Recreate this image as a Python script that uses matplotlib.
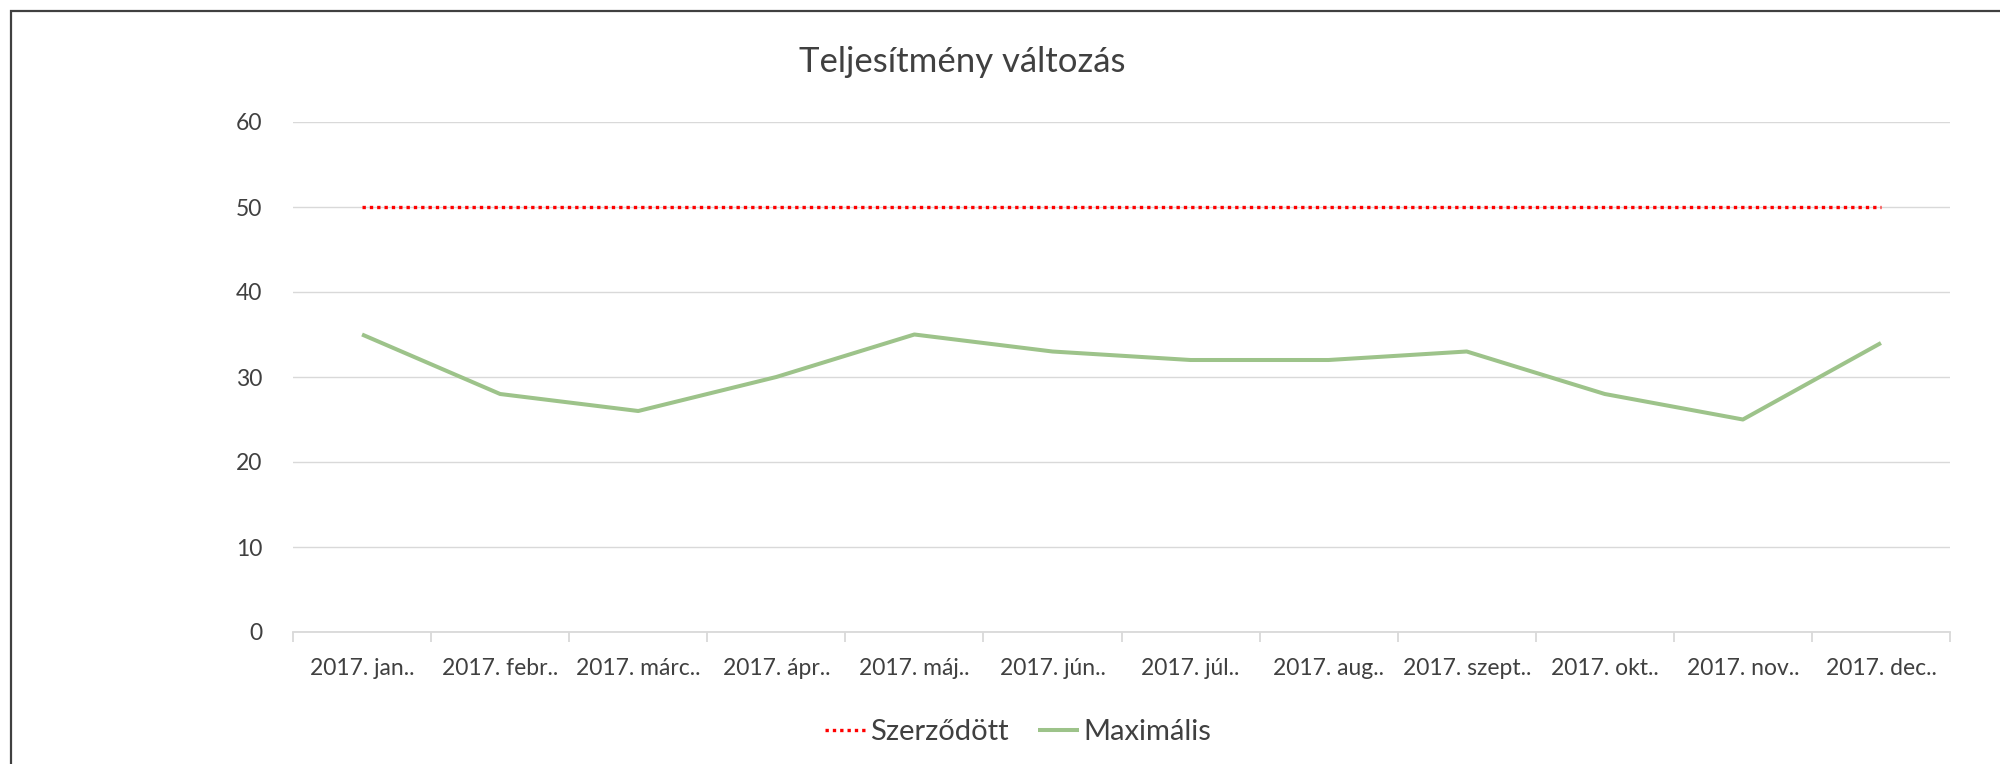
import numpy as np
import matplotlib
matplotlib.use('Agg')
import matplotlib.pyplot as plt
from matplotlib.patches import Rectangle

# %% Data
months = ['2017. jan..', '2017. febr..', '2017. márc..', '2017. ápr..', '2017. máj..',
          '2017. jún..', '2017. júl..', '2017. aug..', '2017. szept..', '2017. okt..',
          '2017. nov..', '2017. dec..']
szerzodott = [50, 50, 50, 50, 50, 50, 50, 50, 50, 50, 50, 50]
maximalis = [35, 28, 26, 30, 35, 33, 32, 32, 33, 28, 25, 34]
yticks = [0, 10, 20, 30, 40, 50, 60]

# %% Style
plt.rcParams['font.family'] = ['Lato', 'DejaVu Sans']
txt_col = '#404040'
grid_col = '#D9D9D9'

W, H = 2000, 764
fig = plt.figure(figsize=(W/100, H/100), dpi=100)

# outer chart frame (right/bottom edges are cut off in the original)
fig.patches.append(Rectangle((11/W, -0.1), 1.2, 1 - 11/H + 0.1, transform=fig.transFigure,
                             fill=False, edgecolor='#404040', linewidth=1.6))

ax = fig.add_axes([293/W, 1 - 632/H, (1950-293)/W, (632-122)/H])
x = np.arange(len(months))

ax.plot(x, szerzodott, color='#FF0000', linewidth=2.4, linestyle=(0, (1, 1.2)),
        dash_capstyle='butt', label='Szerződött', zorder=3)
ax.plot(x, maximalis, color='#9DC38A', linewidth=2.9, solid_capstyle='butt',
        label='Maximális', zorder=3)

ax.set_xlim(-0.5, len(months) - 0.5)
ax.set_ylim(0, 60)
ax.set_yticks(yticks)
ax.set_xticks(x)
ax.set_xticklabels(months)
ax.set_xticks(np.arange(len(months) + 1) - 0.5, minor=True)

ax.grid(axis='y', color=grid_col, linewidth=1.0)
ax.set_axisbelow(True)
for s in ['top', 'right', 'left']:
    ax.spines[s].set_visible(False)
ax.spines['bottom'].set_color(grid_col)
ax.spines['bottom'].set_linewidth(1.3)

ax.tick_params(axis='y', length=0, pad=22, labelsize=16.5, labelcolor=txt_col)
ax.tick_params(axis='x', which='major', length=0, pad=19, labelsize=16.5, labelcolor=txt_col)
ax.tick_params(axis='x', which='minor', length=7, width=1.3, color=grid_col, direction='out')

fig.text(962/W, 1 - 62/H, 'Teljesítmény változás', ha='center', va='center',
         fontsize=25, color=txt_col)

fig.legend(loc='center', bbox_to_anchor=(1018/W, 1 - 732/H), ncol=2, frameon=False,
           fontsize=21, handlelength=1.4, handletextpad=0.15, columnspacing=1.0,
           labelcolor=txt_col)

fig.savefig('out.png', dpi=100)
